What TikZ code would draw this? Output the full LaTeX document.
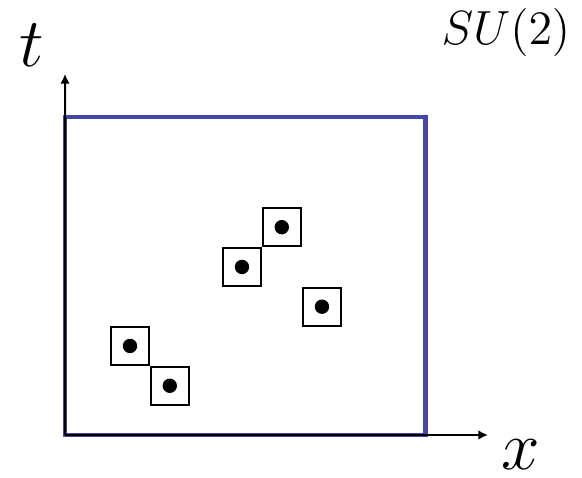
\documentclass[tikz,border=0pt]{standalone}
\usepackage{tikz}
\usetikzlibrary{arrows.meta,positioning}
\usepackage{amsmath,amssymb}
\usepackage{xcolor}
\definecolor{latticeblue}{RGB}{70,70,170}

\begin{document}
\begin{tikzpicture}[x=0.25pt,y=-0.25pt,
    site/.style={draw=black, line width=0.45pt, fill=white, minimum size=9.5pt, inner sep=0pt},
    axis/.style={line width=0.5pt, -{Latex[length=2.4pt,width=2.4pt]}},
    axlabel/.style={inner sep=0pt, font=\LARGE}]
    \useasboundingbox (0,0) rectangle (582,478);
    % lattice volume
    \node[draw=latticeblue, line width=1.2pt, outer sep=0pt, inner sep=0pt,
          minimum width=90.1pt, minimum height=79.5pt] (frame) at (245.25,276) {};
    % axes
    \coordinate (origin) at (frame.south west);
    \coordinate (tend) at (65,74);
    \coordinate (xend) at (488,435);
    \draw[axis] (origin) -- (tend);
    \draw[axis] (origin) -- (xend);
    \node[axlabel] (tlab) at (32,45) {$t$};
    \node[axlabel] (xlab) at (521,455) {$x$};
    \node[inner sep=0pt, font=\large] (group) at (506,33) {$SU(2)$};
    % sites
    \node[site] (s1) at (130,346) {};
    \node[site, below right=0pt of s1] (s2) {};
    \node[site] (s3) at (242,267) {};
    \node[site, above right=0pt of s3] (s4) {};
    \node[site] (s5) at (322,306.7) {};
    \foreach \s in {s1,s2,s3,s4,s5}
        \fill (\s) circle (1.8pt);
\end{tikzpicture}
\end{document}
